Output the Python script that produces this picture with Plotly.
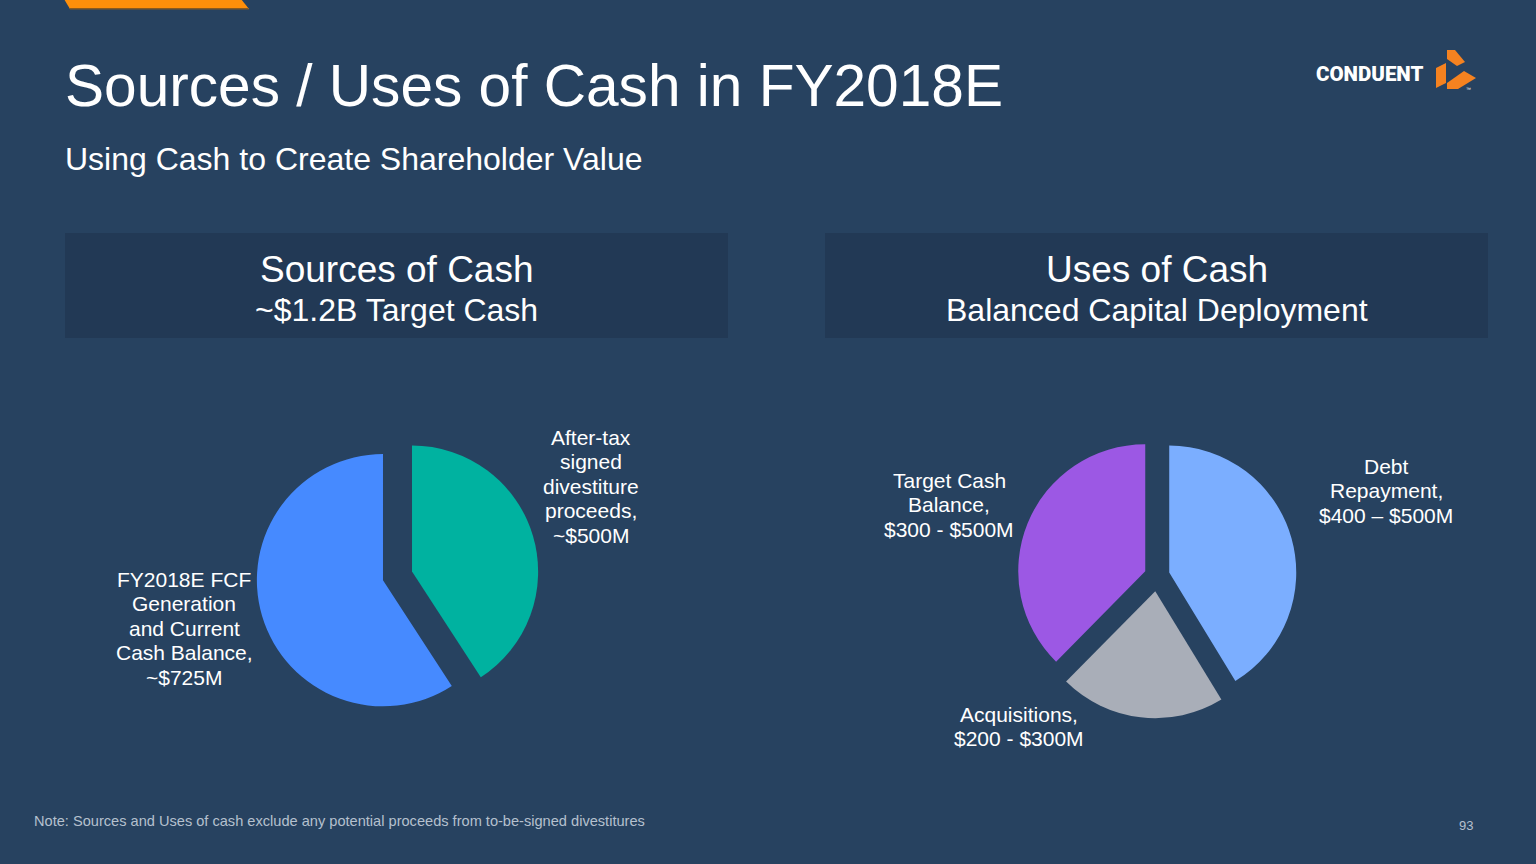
import plotly.graph_objects as go

W, H = 1536, 864
BG = "#274260"
BOX = "#223955"
FONT = "Liberation Sans, Arial, sans-serif"

# ---- data ----
sources_labels = ["After-tax signed divestiture proceeds", "FY2018E FCF Generation and Current Cash Balance"]
sources_values = [500, 725]
sources_colors = ["#00B2A0", "#468AFF"]

uses_labels = ["Debt Repayment", "Acquisitions", "Target Cash Balance"]
uses_values = [450, 230, 410]
uses_colors = ["#7BAEFF", "#A9AEB8", "#9C58E4"]

title_text = "Sources / Uses of Cash in FY2018E"
subtitle_text = "Using Cash to Create Shareholder Value"
left_header = ["Sources of Cash", "~$1.2B Target Cash"]
right_header = ["Uses of Cash", "Balanced Capital Deployment"]
note_text = "Note: Sources and Uses of cash exclude any potential proceeds from to-be-signed divestitures"
page_num = "93"

# label texts (lines) and anchor positions in px
slice_labels = [
    (["After-tax", "signed", "divestiture", "proceeds,", "~$500M"], 591, 437),
    (["FY2018E FCF", "Generation", "and Current", "Cash Balance,", "~$725M"], 184, 579),
    (["Target Cash", "Balance,", "$300 - $500M"], 949, 480),
    (["Debt", "Repayment,", "$400 \u2013 $500M"], 1386, 466),
    (["Acquisitions,", "$200 - $300M"], 1019, 714),
]


def fx(x):
    return x / W


def fy(y):
    return 1 - y / H


fig = go.Figure()

# left pie
lc, lcy, lb = 397.5, 575.9, 282.5
fig.add_trace(go.Pie(
    labels=sources_labels, values=sources_values, sort=False, direction="clockwise",
    rotation=0, pull=[0.12, 0.12], textinfo="none", hoverinfo="skip",
    marker=dict(colors=sources_colors, line=dict(width=0)), showlegend=False,
    domain=dict(x=[fx(lc - lb / 2), fx(lc + lb / 2)], y=[fy(lcy + lb / 2), fy(lcy - lb / 2)]),
))

# right pie
rc, rcy, rb = 1157.0, 576.0, 284.5
fig.add_trace(go.Pie(
    labels=uses_labels, values=uses_values, sort=False, direction="clockwise",
    rotation=0, pull=[0.1, 0.12, 0.1], textinfo="none", hoverinfo="skip",
    marker=dict(colors=uses_colors, line=dict(width=0)), showlegend=False,
    domain=dict(x=[fx(rc - rb / 2), fx(rc + rb / 2)], y=[fy(rcy + rb / 2), fy(rcy - rb / 2)]),
))

shapes = []
# orange top bar
shapes.append(dict(type="path", xref="paper", yref="paper",
                   path=f"M {fx(64)} {fy(-1)} L {fx(241)} {fy(-1)} L {fx(249)} {fy(9)} L {fx(70)} {fy(9)} Z",
                   fillcolor="#FF8F0A", line=dict(width=0), layer="below"))
shapes.append(dict(type="path", xref="paper", yref="paper",
                   path=f"M {fx(69)} {fy(8)} L {fx(248)} {fy(8)} L {fx(249)} {fy(9.5)} L {fx(70)} {fy(9.5)} Z",
                   fillcolor="#8A5A20", line=dict(width=0), layer="below"))
# header boxes
for x0, x1 in [(65, 728), (825, 1488)]:
    shapes.append(dict(type="rect", xref="paper", yref="paper",
                       x0=fx(x0), x1=fx(x1), y0=fy(338), y1=fy(233),
                       fillcolor=BOX, line=dict(width=0), layer="below"))
# logo mark
logo_polys = [
    [(1447, 50), (1455, 50), (1465, 62), (1457, 66), (1447, 59)],
    [(1436, 68), (1446, 63), (1446, 83), (1436, 88)],
    [(1447, 83), (1464, 71), (1476, 78), (1458, 89), (1447, 89)],
]
for poly in logo_polys:
    p = "M " + " L ".join(f"{fx(x)} {fy(y)}" for x, y in poly) + " Z"
    shapes.append(dict(type="path", xref="paper", yref="paper", path=p,
                       fillcolor="#F58220", line=dict(width=0)))

ann = []


def add_text(text, x, y, size, color="#FFFFFF", xanchor="left", weight=None, family=FONT):
    f = dict(family=family, size=size, color=color)
    if weight:
        f["weight"] = weight
    ann.append(dict(text=text, x=fx(x), y=fy(y), xref="paper", yref="paper",
                    xanchor=xanchor, yanchor="middle", showarrow=False, font=f))


add_text(title_text, 63, 86, 58.6)
add_text(subtitle_text, 63, 159, 32)
add_text(left_header[0], 396.5, 269, 37, xanchor="center")
add_text(left_header[1], 396.5, 310, 32, xanchor="center")
add_text(right_header[0], 1156.5, 269, 37, xanchor="center")
add_text(right_header[1], 1156.5, 310, 32, xanchor="center")

for lines, x, y0 in slice_labels:
    for i, line in enumerate(lines):
        add_text(line, x, y0 + i * 24.6, 21, xanchor="center")

add_text(note_text, 32, 821, 14.6, color="#B5C0CE")
add_text(page_num, 1475, 825, 13, color="#B5C0CE", xanchor="right")
add_text("CONDUENT", 1314, 74, 20.5, xanchor="left", weight=900, family="Roboto, Arial, sans-serif")
add_text("\u2122", 1468, 89, 5, xanchor="center")

fig.update_layout(
    width=W, height=H, margin=dict(l=0, r=0, t=0, b=0),
    paper_bgcolor=BG, plot_bgcolor=BG,
    shapes=shapes, annotations=ann, showlegend=False,
)

fig.write_html(
    "out.html",
    config={"displayModeBar": False, "staticPlot": True},
    post_script="document.body.style.margin='0';document.body.style.overflow='hidden';",
)
